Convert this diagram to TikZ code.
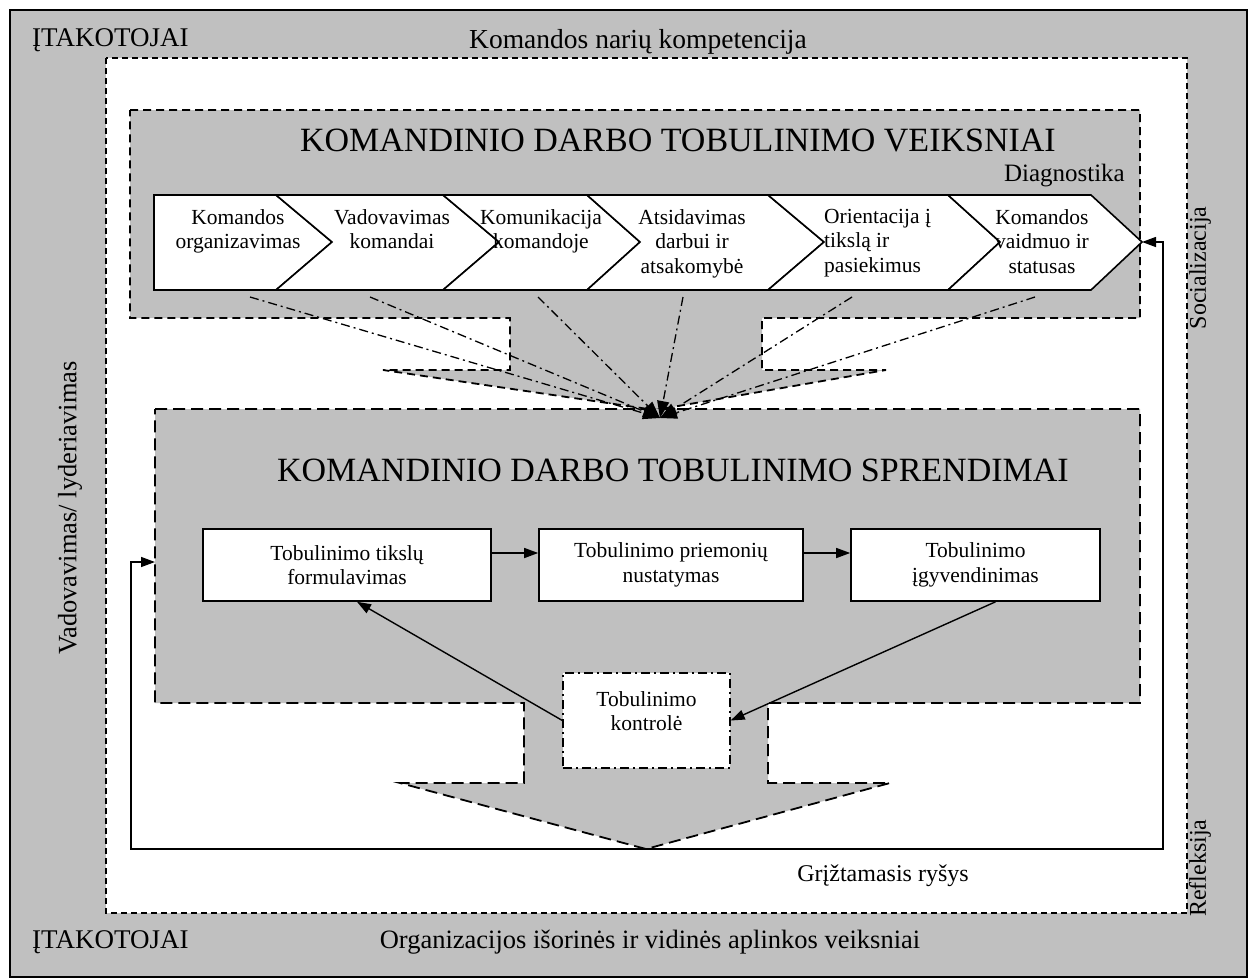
\documentclass[tikz,border=0pt]{standalone}
\usepackage{fontspec}
\setmainfont{Liberation Serif}
\usetikzlibrary{arrows.meta}
\definecolor{gr}{HTML}{C0C0C0}
\tikzset{
 lbl/.style={inner sep=0pt, font=\fontsize{26.5}{30}\selectfont},
 ttl/.style={inner sep=0pt, font=\fontsize{34}{40}\selectfont},
 sml/.style={inner sep=0pt, align=center, font=\fontsize{21.5}{24.5}\selectfont},
 chev/.style={draw, line width=1.6pt, fill=white, line join=miter},
 box/.style={draw, line width=1.6pt, fill=white, inner sep=0pt, sml},
 arr/.style={-{Triangle[length=14pt,width=10pt]}, line width=1.4pt},
 dd/.style={line width=1.3pt, dash pattern=on 9pt off 4pt on 2pt off 4pt, -{Triangle[length=17pt,width=12pt]}},
 wdash/.style={line width=1.2pt, dash pattern=on 6pt off 4pt},
 gdash1/.style={line width=1.8pt, dash pattern=on 8pt off 5pt, fill=gr},
 gdash2/.style={line width=1.8pt, dash pattern=on 12pt off 6pt, fill=gr},
}
\begin{document}
\begin{tikzpicture}[x=1pt,y=-1pt]
\useasboundingbox (0,0) rectangle (1249,977);
% outer
\draw[line width=1.8pt, fill=gr] (10,10) rectangle (1247,977);
\draw[wdash, fill=white] (106,58) rectangle (1187,913);
% top shape
\draw[gdash1] (130,110) -- (1140,110) -- (1140,318) -- (762,318) -- (762,370) -- (886,370) -- (655,410) -- (383,370) -- (510,370) -- (510,318) -- (130,318) -- cycle;
% chevrons
\draw[chev] (154,195) -- (276,195) -- (332,242) -- (276,290) -- (154,290) -- cycle;
\draw[chev] (276,195) -- (443,195) -- (499,242) -- (443,290) -- (276,290) -- (332,242) -- cycle;
\draw[chev] (443,195) -- (587,195) -- (640,242) -- (587,290) -- (443,290) -- (499,242) -- cycle;
\draw[chev] (587,195) -- (768,195) -- (824,242) -- (768,290) -- (587,290) -- (640,242) -- cycle;
\draw[chev] (768,195) -- (948,195) -- (1000,242) -- (948,290) -- (768,290) -- (824,242) -- cycle;
\draw[chev] (948,195) -- (1091,195) -- (1142,242) -- (1091,290) -- (948,290) -- (1000,242) -- cycle;
\coordinate (chevTip) at (1142,242);
\node[sml, anchor=north] (c1) at (238,209) {Komandos\\organizavimas};
\node[sml, anchor=north] (c2) at (392,209) {Vadovavimas\\komandai};
\node[sml, anchor=north] (c3) at (541,209) {Komunikacija\\komandoje};
\node[sml, anchor=north] (c4) at (692,209) {Atsidavimas\\darbui ir\\atsakomybė};
\node[sml, anchor=north west, align=left] (c5) at (824,209) {Orientacija į\\tikslą ir\\pasiekimus};
\node[sml, anchor=north] (c6) at (1042,209) {Komandos\\vaidmuo ir\\statusas};
\node[ttl] (t1) at (678,140) {KOMANDINIO DARBO TOBULINIMO VEIKSNIAI};
\node[lbl, anchor=east, font=\fontsize{25}{30}\selectfont] (diag) at (1125,176) {Diagnostika};
% lower shape
\draw[gdash2] (155,409) -- (1140,409) -- (1140,703) -- (768,703) -- (768,783) -- (890,783) -- (646,849) -- (400,783) -- (524,783) -- (524,703) -- (155,703) -- cycle;
\coordinate (fb) at (646,849);
\coordinate (lowL) at (155,562);
\node[ttl] (t2) at (673,470) {KOMANDINIO DARBO TOBULINIMO SPRENDIMAI};
\node[box, minimum width=288pt, minimum height=72pt] (b1) at (347,565) {Tobulinimo tikslų\\formulavimas};
\node[box, minimum width=264pt, minimum height=72pt] (b2) at (671,565) {Tobulinimo priemonių\\nustatymas};
\node[box, minimum width=249pt, minimum height=72pt] (b3) at (975.5,565) {Tobulinimo\\įgyvendinimas};
\node[draw, fill=white, line width=1.3pt, dash pattern=on 9pt off 4pt on 2pt off 4pt, minimum width=167pt, minimum height=95pt, inner sep=0pt] (kontr) at (646.5,720.5) {};
\node[sml] (kt) at (646.5,711) {Tobulinimo\\kontrolė};
\coordinate (ya) at (0,553);
\draw[arr] (b1.east |- ya) -- (b2.west |- ya);
\draw[arr] (b2.east |- ya) -- (b3.west |- ya);
\draw[arr] (kontr.west) -- ([xshift=10pt]b1.south);
\draw[arr] ([xshift=20pt]b3.south) -- (kontr.east);
% feedback
\coordinate (fl) at (131,562);
\coordinate (fr) at (1163,242);
\draw[arr] (fb) -| (fl) -- (lowL);
\draw[arr] (fb) -| (fr) -- (chevTip);
% dash-dot converging
\coordinate (conv) at (660,418);
\coordinate (s1) at (250,297);
\coordinate (s2) at (370,297);
\coordinate (s3) at (538,297);
\coordinate (s4) at (683,297);
\coordinate (s5) at (852,297);
\coordinate (s6) at (1035,297);
\foreach \s in {s1,s2,s3,s4,s5,s6} \draw[dd] (\s) -- (conv);
% labels
\node[lbl, anchor=west, font=\fontsize{27}{30}\selectfont] (i1) at (32,40) {ĮTAKOTOJAI};
\node[lbl, font=\fontsize{27.5}{30}\selectfont] (komp) at (638,42) {Komandos narių kompetencija};
\node[lbl, anchor=west, font=\fontsize{27}{30}\selectfont] (i2) at (32,942) {ĮTAKOTOJAI};
\node[lbl] (org) at (650,942) {Organizacijos išorinės ir vidinės aplinkos veiksniai};
\node[lbl, rotate=90] (vad) at (70,508) {Vadovavimas/ lyderiavimas};
\node[lbl, rotate=90, font=\fontsize{24}{28}\selectfont] (soc) at (1200,268) {Socializacija};
\node[lbl, rotate=90, font=\fontsize{24}{28}\selectfont] (refl) at (1200,868) {Refleksija};
\node[lbl, font=\fontsize{24}{26}\selectfont] (grz) at (883,876) {Grįžtamasis ryšys};
\end{tikzpicture}
\end{document}
